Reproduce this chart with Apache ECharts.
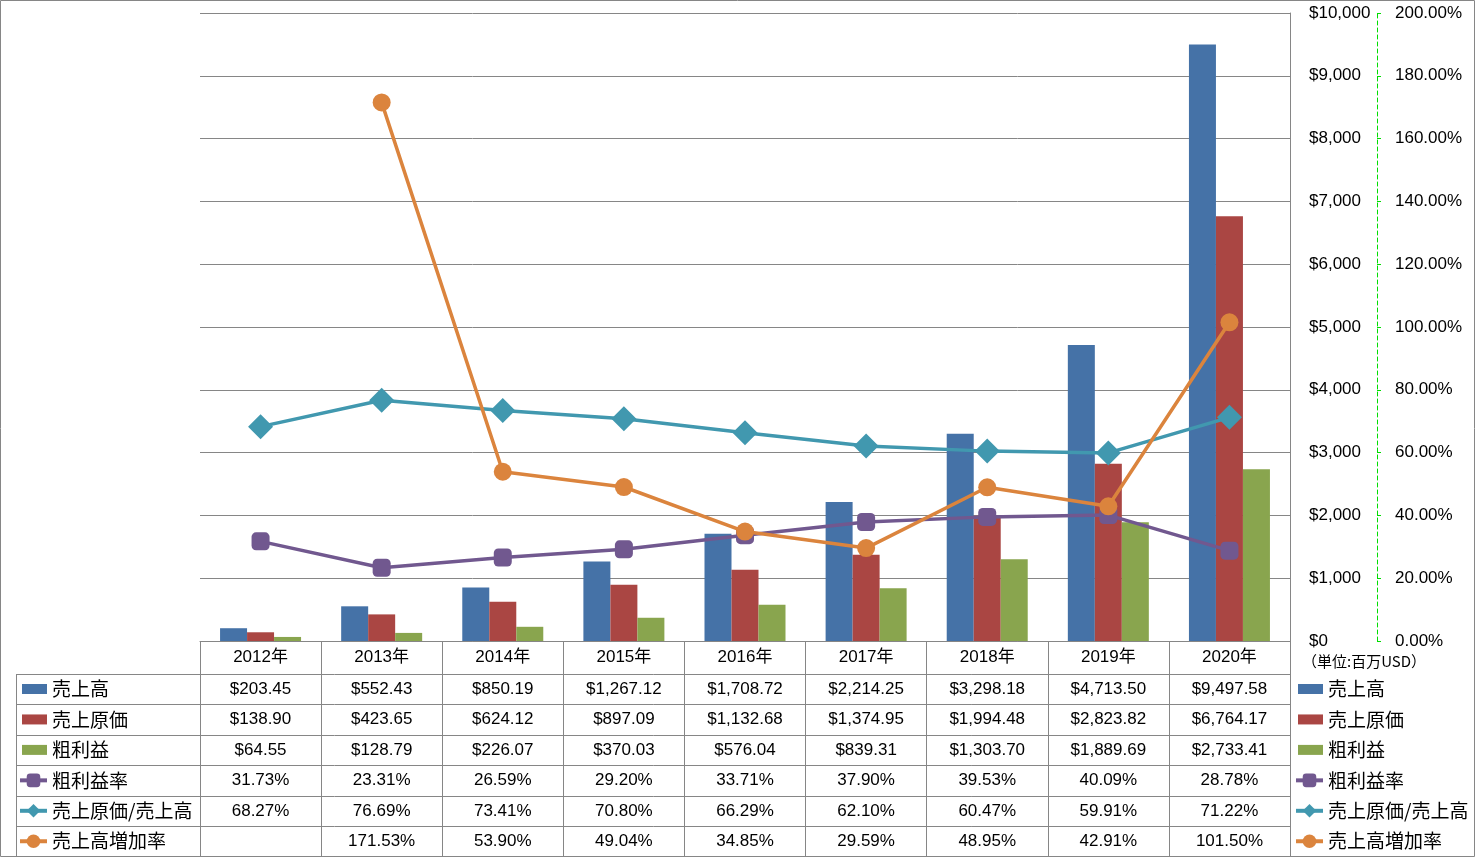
<!DOCTYPE html>
<html><head><meta charset="utf-8">
<script src="https://cdn.jsdelivr.net/npm/echarts@6/dist/echarts.min.js"></script>
<style>html,body{margin:0;padding:0;background:#fff}#c{width:1478px;height:858px}</style>
</head><body><div id="c"></div>
<script>
// ---- data ----
const categories = ['2012年','2013年','2014年','2015年','2016年','2017年','2018年','2019年','2020年'];
const sales = [203.45, 552.43, 850.19, 1267.12, 1708.72, 2214.25, 3298.18, 4713.50, 9497.58];
const costOfSales = [138.90, 423.65, 624.12, 897.09, 1132.68, 1374.95, 1994.48, 2823.82, 6764.17];
const grossProfit = [64.55, 128.79, 226.07, 370.03, 576.04, 839.31, 1303.70, 1889.69, 2733.41];
const grossMarginRate = [31.73, 23.31, 26.59, 29.20, 33.71, 37.90, 39.53, 40.09, 28.78];
const costRatio = [68.27, 76.69, 73.41, 70.80, 66.29, 62.10, 60.47, 59.91, 71.22];
const salesGrowth = [null, 171.53, 53.90, 49.04, 34.85, 29.59, 48.95, 42.91, 101.50];
const seriesNames = ['売上高','売上原価','粗利益','粗利益率','売上原価/売上高','売上高増加率'];
const usdAxis = {min: 0, max: 10000, interval: 1000};
const pctAxis = {min: 0, max: 200, interval: 20};
const unitLabel = '（単位:百万USD）';

// ---- layout ----
const GL = 200, GR = 1290, GT = 13, GB = 641;
const rowEdges = [641, 674, 704, 735, 765, 796, 826, 856];
const rowCenters = rowEdges.slice(0, -1).map((e, i) => (e + rowEdges[i + 1]) / 2);
const NUMFONT = '"Liberation Sans", "Noto Sans CJK JP", sans-serif';
const JPFONT = '"Noto Sans CJK JP", sans-serif';
const GRID = '#868686';
const colors = ['#4572A7', '#AA4643', '#89A54E', '#71588F', '#4198AF', '#DB843D'];

const fmtUsd = v => '$' + v.toLocaleString('en-US', {minimumFractionDigits: 2, maximumFractionDigits: 2});
const fmtPct = v => v == null ? '' : v.toFixed(2) + '%';
const tableRows = [
  sales.map(fmtUsd), costOfSales.map(fmtUsd), grossProfit.map(fmtUsd),
  grossMarginRate.map(fmtPct), costRatio.map(fmtPct), salesGrowth.map(fmtPct)
];

const xAxes = [{
  type: 'category', data: categories, gridIndex: 0, position: 'bottom',
  axisLine: {show: true, lineStyle: {color: GRID, width: 1}},
  axisTick: {show: true, length: rowEdges[rowEdges.length - 1] - GB, lineStyle: {color: GRID, width: 1}},
  axisLabel: {interval: 0, margin: rowCenters[0] - GB, verticalAlign: 'middle', fontSize: 17, fontFamily: NUMFONT, color: '#000'}
}];
tableRows.forEach((row, r) => {
  xAxes.push({
    type: 'category', data: categories, gridIndex: 0, position: 'bottom',
    axisLine: {show: false}, axisTick: {show: false}, splitLine: {show: false},
    axisLabel: {interval: 0, margin: rowCenters[r + 1] - GB, verticalAlign: 'middle', fontSize: 17, fontFamily: NUMFONT, color: '#000',
      formatter: (v, i) => row[i]}
  });
});

const graphics = [
  {type: 'rect', shape: {x: 0.5, y: 0.5, width: 1474, height: 856}, style: {fill: 'none', stroke: GRID, lineWidth: 1}, z: 0, silent: true},
  {type: 'line', shape: {x1: 16.5, y1: rowEdges[1], x2: 16.5, y2: rowEdges[7]}, style: {stroke: GRID, lineWidth: 1}, silent: true},
  {type: 'text', left: 1302, top: 654, style: {text: unitLabel, fontSize: 15, fontFamily: JPFONT, fill: '#000'}, silent: true}
];
for (let k = 1; k < rowEdges.length; k++) {
  graphics.push({type: 'line', shape: {x1: 16, y1: rowEdges[k] + 0.5, x2: GR + 0.5, y2: rowEdges[k] + 0.5}, style: {stroke: GRID, lineWidth: 1}, silent: true});
}

// bar keys: flat rectangle inside a 27x17 box
const barKey = 'path://M0,0L0,0M27,17L27,17M2,3.5H27V13.5H2Z';
const legendData = seriesNames.map((n, i) => i < 3 ? {name: n, icon: barKey} : {name: n});
const ITEM_H = 17, LEG_FONT = 19, ROW_STEP = 30.45;
const legendBase = {
  orient: 'vertical', top: rowCenters[1] - ITEM_H / 2 - 1, height: 200, padding: 0,
  itemWidth: 27, itemHeight: ITEM_H, itemGap: ROW_STEP - LEG_FONT,
  selectedMode: false, data: legendData,
  lineStyle: {width: 4},
  textStyle: {fontSize: LEG_FONT, fontFamily: JPFONT, color: '#000', lineHeight: ITEM_H}
};

const barCommon = {type: 'bar', barWidth: 27, barGap: '0%', xAxisIndex: 0, yAxisIndex: 0};
const lineCommon = {type: 'line', xAxisIndex: 0, yAxisIndex: 1, lineStyle: {width: 3.5}};

const option = {
  animation: false,
  color: colors,
  grid: {left: GL, right: 1478 - GR, top: GT, height: GB - GT, containLabel: false, outerBoundsMode: 'none'},
  legend: [Object.assign({}, legendBase, {left: 18}), Object.assign({}, legendBase, {left: 1294})],
  xAxis: xAxes,
  yAxis: [{
    type: 'value', position: 'right', min: usdAxis.min, max: usdAxis.max, interval: usdAxis.interval,
    axisLine: {show: true, lineStyle: {color: GRID}}, axisTick: {show: false},
    splitLine: {show: true, lineStyle: {color: GRID, width: 1}},
    axisLabel: {margin: 19, fontSize: 17, fontFamily: NUMFONT, color: '#000', formatter: v => '$' + v.toLocaleString('en-US')}
  }, {
    type: 'value', position: 'right', offset: 87, min: pctAxis.min, max: pctAxis.max, interval: pctAxis.interval,
    axisLine: {show: true, lineStyle: {color: '#00DD00', type: [4, 3], width: 1}},
    axisTick: {show: true, length: 4, lineStyle: {color: '#00DD00'}},
    splitLine: {show: false},
    axisLabel: {margin: 18, fontSize: 17, fontFamily: NUMFONT, color: '#000', formatter: v => v.toFixed(2) + '%'}
  }],
  graphic: graphics,
  series: [
    Object.assign({}, barCommon, {name: seriesNames[0], data: sales}),
    Object.assign({}, barCommon, {name: seriesNames[1], data: costOfSales}),
    Object.assign({}, barCommon, {name: seriesNames[2], data: grossProfit}),
    Object.assign({}, lineCommon, {name: seriesNames[3], data: grossMarginRate, symbol: 'roundRect', symbolSize: 18, z: 3}),
    Object.assign({}, lineCommon, {name: seriesNames[4], data: costRatio, symbol: 'diamond', symbolSize: 25, z: 4}),
    Object.assign({}, lineCommon, {name: seriesNames[5], data: salesGrowth, symbol: 'circle', symbolSize: 18, z: 5})
  ]
};
const chart = echarts.init(document.getElementById('c'), null, {renderer: 'canvas'});
chart.setOption(option);
</script></body></html>
